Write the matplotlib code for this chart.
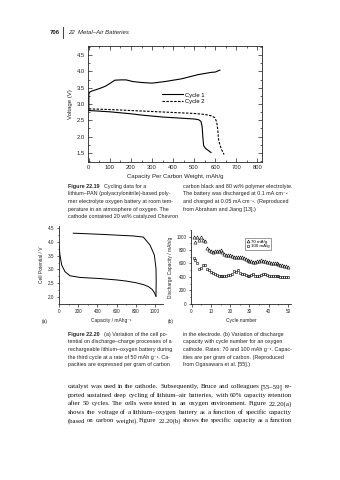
import matplotlib
matplotlib.use('Agg')
import matplotlib.pyplot as plt
from matplotlib.transforms import Affine2D
from matplotlib.ticker import MultipleLocator

# ---------------- data ----------------
# Figure 22.19 (top)
c1_dis_cap = [0, 50, 100, 150, 200, 250, 300, 350, 400, 450, 500, 520, 532, 538, 541, 545, 555, 568, 580]
c1_dis_v = [2.80, 2.78, 2.76, 2.73, 2.70, 2.66, 2.63, 2.60, 2.58, 2.56, 2.54, 2.52, 2.47, 2.30, 2.00, 1.72, 1.63, 1.57, 1.51]
c1_chg_cap = [0, 0, 3, 15, 30, 53, 80, 100, 123, 150, 177, 208, 250, 300, 362, 438, 518, 580, 600, 622]
c1_chg_v = [2.80, 3.30, 3.36, 3.40, 3.43, 3.48, 3.55, 3.63, 3.73, 3.74, 3.74, 3.69, 3.66, 3.64, 3.69, 3.77, 3.90, 3.97, 3.98, 4.04]
c2_dis_cap = [0, 100, 200, 300, 400, 500, 550, 580, 598, 607, 612, 616, 622, 630, 642]
c2_dis_v = [2.85, 2.83, 2.80, 2.77, 2.74, 2.71, 2.68, 2.64, 2.58, 2.45, 2.20, 1.90, 1.75, 1.60, 1.45]
series_top = ["Cycle 1", "Cycle 2"]

# Figure 22.20(a)
a_dis_cap = [0, 10, 28, 62, 115, 219, 427, 600, 700, 800, 880, 930, 970, 995, 1010]
a_dis_v = [3.88, 3.52, 3.16, 2.92, 2.77, 2.71, 2.67, 2.62, 2.58, 2.52, 2.45, 2.38, 2.28, 2.15, 2.02]
a_chg_cap = [1010, 1012, 1010, 993, 948, 878, 774, 600, 427, 149]
a_chg_v = [2.05, 2.60, 3.04, 3.52, 3.88, 4.17, 4.21, 4.24, 4.27, 4.31]

# Figure 22.20(b)
cycles = list(range(1, 51))
cap_70 = [1000, 920, 1000, 950, 1000, 950, 940, 830, 800, 780,
          770, 780, 780, 790, 800, 770, 740, 730, 720, 720,
          710, 690, 690, 690, 690, 690, 680, 670, 650, 640,
          630, 620, 620, 630, 640, 650, 640, 630, 620, 620,
          610, 610, 600, 600, 590, 580, 580, 560, 560, 550]
cap_100 = [680, 650, 600, 520, 540, 580, 580, 520, 500, 470,
           460, 440, 430, 420, 410, 410, 410, 420, 430, 430,
           450, 490, 470, 500, 460, 450, 440, 430, 420, 420,
           430, 440, 420, 420, 420, 430, 450, 440, 430, 420,
           420, 420, 410, 410, 410, 400, 400, 400, 400, 400]
rate_labels = ["70 mA/g", "100 mA/g"]

# ---------------- figure ----------------
W, H = 340, 480
fig = plt.figure(figsize=(W / 100, H / 100), dpi=100)
fig.patch.set_facecolor('white')
PX = Affine2D().scale(1 / W, -1 / H).translate(0, 1) + fig.transFigure
renderer = fig.canvas.get_renderer()

SANS = ['Liberation Sans', 'DejaVu Sans']
SERIF = ['Liberation Serif', 'DejaVu Serif']
TXT = '#222222'


def ax_px(l, t, r, b):
    return fig.add_axes([l / W, 1 - b / H, (r - l) / W, (b - t) / H])


def width_of(s, size, family, **kw):
    t = fig.text(0, 0, s, fontsize=size, family=family, **kw)
    w = t.get_window_extent(renderer).width
    t.remove()
    return w


def fit_size(s, target, family, **kw):
    return 10 * target / width_of(s, 10, family, **kw)


def justify(line, x0, x1, y, size, family, color=TXT):
    words = line.split(' ')
    ws = [width_of(w, size, family) for w in words]
    gap = (x1 - x0 - sum(ws)) / (len(words) - 1)
    x = x0
    for w, wd in zip(words, ws):
        fig.text(x, y, w, fontsize=size, family=family, color=color,
                 transform=PX, va='baseline', ha='left')
        x += wd + gap


# ---------------- header ----------------
fig.text(60, 34.5, "706", transform=PX, fontsize=4.3, family=SANS, weight='bold',
         ha='right', va='baseline', color=TXT)
fig.lines.append(plt.Line2D([63 / W, 63 / W], [1 - 27 / H, 1 - 38 / H], transform=fig.transFigure,
                            color=TXT, lw=0.6))
fig.text(68, 34.5, "22  Metal\u2013Air Batteries", transform=PX, fontsize=4.3, family=SANS,
         style='italic', ha='left', va='baseline', color=TXT)

# ---------------- top chart ----------------
ax = ax_px(88, 46, 262, 162)
ax.plot(c1_dis_cap, c1_dis_v, color='black', lw=0.8, label=series_top[0])
ax.plot(c1_chg_cap, c1_chg_v, color='black', lw=0.8)
ax.plot(c2_dis_cap, c2_dis_v, color='black', lw=0.8, ls=(0, (2.2, 1.3)), label=series_top[1])
ax.set_xlim(-4, 822)
ax.set_ylim(1.22, 4.78)
ax.xaxis.set_major_locator(MultipleLocator(100))
ax.xaxis.set_minor_locator(MultipleLocator(50))
ax.yaxis.set_major_locator(MultipleLocator(0.5))
ax.yaxis.set_minor_locator(MultipleLocator(0.25))
ax.tick_params(which='both', direction='in', top=True, right=True, width=0.5, colors=TXT,
               labelsize=4.2, pad=2.2)
ax.tick_params(which='major', length=2.6)
ax.tick_params(which='minor', length=1.4)
for lab in ax.get_xticklabels() + ax.get_yticklabels():
    lab.set_family(SANS)
for s in ax.spines.values():
    s.set_linewidth(0.6)
    s.set_color(TXT)
ax.set_xlabel("Capacity Per Carbon Weight, mAh/g", fontsize=4.3, family=SANS, labelpad=3, color=TXT)
ax.set_ylabel("Voltage (V)", fontsize=4.3, family=SANS, labelpad=3, color=TXT)
leg = ax.legend(loc='upper left', bbox_to_anchor=(0.40, 0.635), frameon=False,
                handlelength=3.6, handletextpad=0.4, labelspacing=0.25, borderpad=0.2,
                prop={'family': SANS, 'size': 4.2})

# ---------------- caption 22.19 ----------------
cap_size = fit_size("carbon black and 80 wt% polymer electrolyte.", 110, SANS)
lh = 7.5
left19 = ["lithium\u2013PAN (polyacrylonitrile)-based poly-",
          "mer electrolyte oxygen battery at room tem-",
          "perature in an atmosphere of oxygen. The",
          "cathode contained 20 wt% catalyzed Chevron"]
right19 = ["carbon black and 80 wt% polymer electrolyte.",
           "The battery was discharged at 0.1 mA cm\u207b\u00b2",
           "and charged at 0.05 mA cm\u207b\u00b2. (Reproduced",
           "from Abraham and Jiang [13].)"]
y0 = 188
fig.text(68, y0, "Figure 22.19", transform=PX, fontsize=cap_size, family=SANS, weight='bold',
         va='baseline', color=TXT)
wb = width_of("Figure 22.19", cap_size, SANS, weight='bold')
fig.text(68 + wb + 4, y0, "Cycling data for a", transform=PX, fontsize=cap_size, family=SANS,
         va='baseline', color=TXT)
for i, s in enumerate(left19):
    fig.text(68, y0 + lh * (i + 1), s, transform=PX, fontsize=cap_size, family=SANS,
             va='baseline', color=TXT)
for i, s in enumerate(right19):
    fig.text(183, y0 + lh * i, s, transform=PX, fontsize=cap_size, family=SANS,
             va='baseline', color=TXT)

# ---------------- chart (a) ----------------
axa = ax_px(59, 226, 163, 304)
axa.plot(a_dis_cap, a_dis_v, color='black', lw=0.7)
axa.plot(a_chg_cap, a_chg_v, color='black', lw=0.7)
axa.set_xlim(0, 1083)
axa.set_ylim(1.75, 4.57)
axa.xaxis.set_minor_locator(MultipleLocator(100))
axa.yaxis.set_major_locator(MultipleLocator(0.5))
axa.yaxis.set_minor_locator(MultipleLocator(0.25))
axa.set_xticks([0, 200, 400, 600, 800, 1000])

# ---------------- chart (b) ----------------
axb = ax_px(191, 230, 291, 304)
axb.plot(cycles, cap_70, ls='none', marker='^', ms=2.3, mfc='none', mec='black', mew=0.4,
         label=rate_labels[0])
axb.plot(cycles, cap_100, ls='none', marker='s', ms=2.0, mfc='none', mec='black', mew=0.4,
         label=rate_labels[1])
axb.set_xlim(-0.3, 51.5)
axb.set_ylim(-5, 1100)
axb.xaxis.set_major_locator(MultipleLocator(10))
axb.xaxis.set_minor_locator(MultipleLocator(5))
axb.yaxis.set_major_locator(MultipleLocator(200))
axb.yaxis.set_minor_locator(MultipleLocator(100))
lb = axb.legend(loc='upper right', bbox_to_anchor=(0.82, 0.92), frameon=True,
                fancybox=False, edgecolor=TXT, handlelength=0.6, handletextpad=0.3,
                labelspacing=0.15, borderpad=0.3, markerscale=0.9, prop={'family': SANS, 'size': 3.2})
lb.get_frame().set_linewidth(0.4)

for a in (axa, axb):
    for k in ('top', 'right'):
        a.spines[k].set_visible(False)
    for k in ('left', 'bottom'):
        a.spines[k].set_linewidth(0.6)
        a.spines[k].set_color(TXT)
    a.tick_params(which='both', direction='out', width=0.5, colors=TXT, labelsize=3.3, pad=1.5)
    a.tick_params(which='major', length=1.8)
    a.tick_params(which='minor', length=1.0)
    for lab in a.get_xticklabels() + a.get_yticklabels():
        lab.set_family(SANS)

axa.set_xlabel("Capacity / mAhg\u207b\u00b9", fontsize=3.5, family=SANS, labelpad=3, color=TXT)
axa.set_ylabel("Cell Potential / V", fontsize=3.5, family=SANS, labelpad=3, color=TXT)
axb.set_xlabel("Cycle number", fontsize=3.5, family=SANS, labelpad=3, color=TXT)
axb.set_ylabel("Discharge Capacity / mAh/g", fontsize=3.5, family=SANS, labelpad=2.5, color=TXT)
fig.text(42, 322, "(a)", transform=PX, fontsize=3.5, family=SANS, va='center', color=TXT)
fig.text(168, 322, "(b)", transform=PX, fontsize=3.5, family=SANS, va='center', color=TXT)

# ---------------- caption 22.20 ----------------
left20 = ["tential on discharge\u2013charge processes of a",
          "rechargeable lithium\u2013oxygen battery during",
          "the third cycle at a rate of 50 mAh g\u207b\u00b9. Ca-",
          "pacities are expressed per gram of carbon"]
right20 = ["in the electrode. (b) Variation of discharge",
           "capacity with cycle number for an oxygen",
           "cathode. Rates: 70 and 100 mAh g\u207b\u00b9. Capac-",
           "ities are per gram of carbon. (Reproduced",
           "from Ogasawara et al. [55].)"]
y1 = 336
fig.text(68, y1, "Figure 22.20", transform=PX, fontsize=cap_size, family=SANS, weight='bold',
         va='baseline', color=TXT)
wb = width_of("Figure 22.20", cap_size, SANS, weight='bold')
fig.text(68 + wb + 4, y1, "(a) Variation of the cell po-", transform=PX, fontsize=cap_size,
         family=SANS, va='baseline', color=TXT)
for i, s in enumerate(left20):
    fig.text(68, y1 + lh * (i + 1), s, transform=PX, fontsize=cap_size, family=SANS,
             va='baseline', color=TXT)
for i, s in enumerate(right20):
    fig.text(183, y1 + lh * i, s, transform=PX, fontsize=cap_size, family=SANS,
             va='baseline', color=TXT)

# ---------------- body text ----------------
body = ["catalyst was used in the cathode. Subsequently, Bruce and colleagues [55\u201359] re-",
        "ported sustained deep cycling of lithium\u2013air batteries, with 60% capacity retention",
        "after 50 cycles. The cells were tested in an oxygen environment. Figure 22.20(a)",
        "shows the voltage of a lithium\u2013oxygen battery as a function of specific capacity",
        "(based on carbon weight). Figure 22.20(b) shows the specific capacity as a function"]
for i, s in enumerate(body):
    sz = 0.99 * fit_size(s, 224, SERIF)
    justify(s, 68, 292, 388 + 8.6 * i, sz, SERIF, color='#111111')

fig.savefig("out.png", dpi=100, facecolor='white')
